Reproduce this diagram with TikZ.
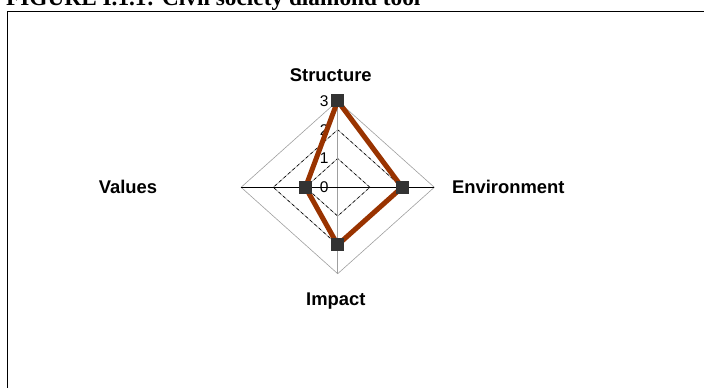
\documentclass[tikz,border=0pt]{standalone}
\usepackage{fontspec}
\setmainfont{Liberation Serif}
\setsansfont{Liberation Sans}
\usepackage{tikz}
\usetikzlibrary{positioning}
\usepackage{xcolor}
\definecolor{rust}{RGB}{153,51,0}
\definecolor{markgray}{RGB}{51,51,51}

\begin{document}
\begin{tikzpicture}[x=32.2pt, y=28.8pt,
  axis label/.style={inner sep=0pt, font=\sffamily\bfseries\fontsize{18.4}{20}\selectfont},
  tick label/.style={inner sep=0pt, anchor=east, font=\sffamily\fontsize{15.5}{17}\selectfont},
  grid line/.style={gray!75, line width=0.6pt},
  grid dash/.style={black, line width=0.6pt, dash pattern=on 3pt off 3pt},
  score line/.style={rust, line width=5pt, line join=round},
  marker/.style={rectangle, fill=markgray, minimum size=13pt, inner sep=0pt}]

\useasboundingbox (-337.7pt,-200.7pt) rectangle (366.3pt,187.3pt);

\node [anchor=base west, inner sep=0pt, font=\bfseries\fontsize{23.3}{26}\selectfont]
  (title) at (-331.7pt,181.3pt) {FIGURE I.1.1: Civil society diamond tool};
\draw [line width=0.8pt] (-330.7pt,176.3pt) rectangle (380pt,-215pt);

\foreach \a/\d [count=\i] in {90/3, 0/2, 270/2, 180/1} {
  \coordinate (rim-\i) at (\a:3);
  \coordinate (score-\i) at (\a:\d);
}

\foreach \r in {1,2} {
  \draw [grid line] (0:\r) -- (90:\r) -- (180:\r) -- (270:\r) -- cycle;
  \draw [grid dash] (0:\r) -- (90:\r) -- (180:\r) -- (270:\r) -- cycle;
}
\draw [grid line] (rim-1) -- (rim-2) -- (rim-3) -- (rim-4) -- cycle;
\draw [grid line] (rim-1) -- (rim-3);
\draw [line width=0.8pt] (rim-4) -- (rim-2);

\foreach \r in {0,...,3}
  \node [tick label] (tick-\r) at ([xshift=-9pt]90:\r) {\r};

\draw [score line] (score-1) -- (score-2) -- (score-3) -- (score-4) -- cycle;

\foreach \i in {1,...,4}
  \node [marker] (value-\i) at (score-\i) {};

\node [axis label, anchor=south, above=19pt of rim-1, xshift=-6.9pt] (structure) {Structure};
\node [axis label, right=17.6pt of rim-2] (environment) {Environment};
\node [axis label, below=19pt of rim-3, xshift=-1.9pt] (impact) {Impact};
\node [axis label, left=83.7pt of rim-4] (values) {Values};

\end{tikzpicture}
\end{document}
